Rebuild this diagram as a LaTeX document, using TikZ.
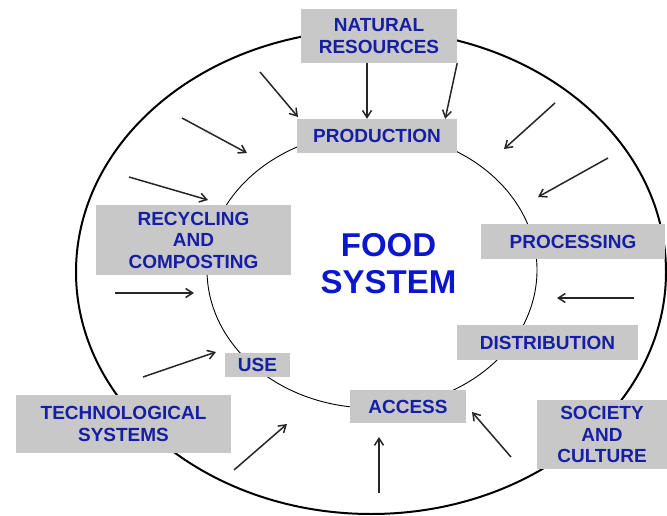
\documentclass[tikz,border=0pt]{standalone}
\usepackage{fontspec}
\setmainfont{Liberation Sans}
\usepackage{tikz}
\usetikzlibrary{arrows.meta,shapes,positioning}
\usepackage{xcolor}
\definecolor{fsblue}{RGB}{12,22,205}
\definecolor{fsnavy}{RGB}{22,30,165}
\definecolor{fsgray}{RGB}{200,200,200}
\tikzstyle{arrow} = [line width=1.5pt,-{Straight Barb[length=7pt,width=9pt]},color=black!85]
\tikzstyle{stagebox} = [rectangle,fill=fsgray,inner sep=0pt,align=center,text=fsnavy,font=\fontsize{19}{21.5}\selectfont\bfseries]

\begin{document}
\begin{tikzpicture}[x=1pt,y=-1pt]
\useasboundingbox (0,0) rectangle (667,516);
% Rings
\draw[line width=2pt] (371,272) ellipse [x radius=295pt, y radius=242pt];
\draw[line width=0.9pt] (372,270) ellipse [x radius=165pt, y radius=138pt];

% Boxes
\node[stagebox, minimum width=156, minimum height=54] (natres) at (379,36) {NATURAL\\RESOURCES};
\node[stagebox, minimum width=160, minimum height=34] (prod) at (377,136) {PRODUCTION};
\node[stagebox, minimum width=195, minimum height=70] (recyc) at (193.5,240) {RECYCLING\\AND\\COMPOSTING};
\node[stagebox, minimum width=184, minimum height=35] (proc) at (573,241.5) {PROCESSING};
\node[stagebox, minimum width=181, minimum height=35] (distr) at (547.5,342.5) {DISTRIBUTION};
\node[stagebox, minimum width=65, minimum height=24] (use) at (257.5,365) {USE};
\node[stagebox, minimum width=116, minimum height=33] (access) at (408,406.5) {ACCESS};
\node[stagebox, minimum width=215, minimum height=58] (techsys) at (123.5,424) {TECHNOLOGICAL\\SYSTEMS};
\node[stagebox, minimum width=130, minimum height=69] (society) at (602,434.5) {SOCIETY\\AND\\CULTURE};

% Centre
\node[text=fsblue, align=center, font=\fontsize{33}{37}\selectfont\bfseries] (food) at (388.5,263.5) {FOOD\\SYSTEM};

% Arrow ends
\coordinate (a1) at (260,72);   \coordinate (b1) at (298,117);
\coordinate (a2) at (182,118);  \coordinate (b2) at (247,153);
\coordinate (a3) at (129,177);  \coordinate (b3) at (208,200);
\coordinate (a4) at (555,103);  \coordinate (b4) at (504,149);
\coordinate (a5) at (608,158);  \coordinate (b5) at (538,197);
\coordinate (a6) at (115,293);  \coordinate (b6) at (194,293);
\coordinate (a7) at (634,298);  \coordinate (b7) at (557,298);
\coordinate (a8) at (143,377);  \coordinate (b8) at (216,352);
\coordinate (a9) at (234,470);  \coordinate (b9) at (287,424);
\coordinate (a10) at (379,493); \coordinate (b10) at (379,437);
\coordinate (a11) at (511,457); \coordinate (b11) at (472,412);

% Arrows
\draw[arrow] ([xshift=-12pt]natres.south) -- ([xshift=-10pt]prod.north);
\draw[arrow] (natres.south east) -- ([xshift=-12pt]prod.north east);
\draw[arrow] (a1) -- (b1);
\draw[arrow] (a2) -- (b2);
\draw[arrow] (a3) -- (b3);
\draw[arrow] (a4) -- (b4);
\draw[arrow] (a5) -- (b5);
\draw[arrow] (a6) -- (b6);
\draw[arrow] (a7) -- (b7);
\draw[arrow] (a8) -- (b8);
\draw[arrow] (a9) -- (b9);
\draw[arrow] (a10) -- (b10);
\draw[arrow] (a11) -- (b11);
\end{tikzpicture}
\end{document}
